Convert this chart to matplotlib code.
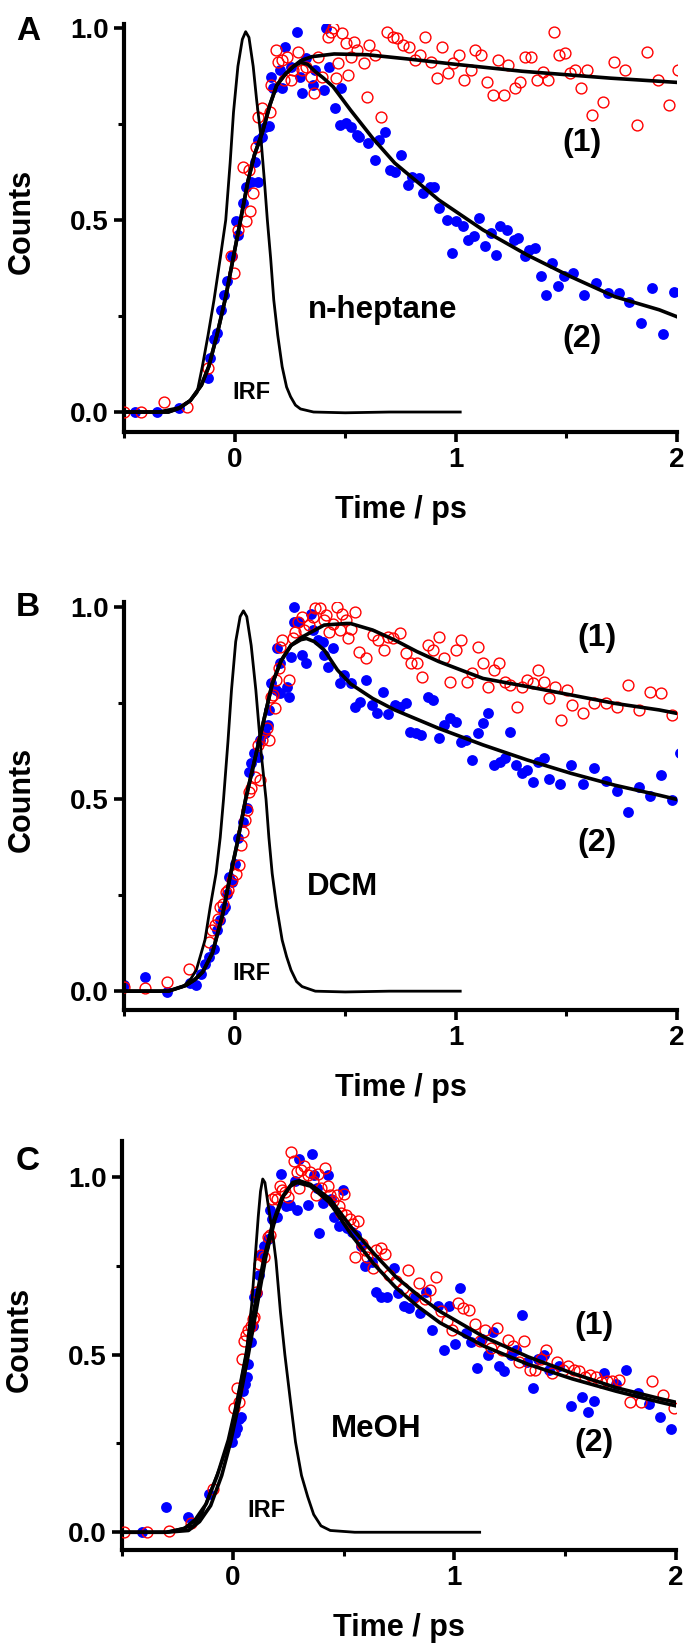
import matplotlib
matplotlib.use("Agg")
import matplotlib.pyplot as plt
from matplotlib.ticker import MultipleLocator

# ---- panel A : n-heptane ----
a_blue_t = [-0.45, -0.35, -0.25, -0.118, -0.11, -0.094, -0.08, -0.06, -0.048, -0.034,
            -0.014, 0.016, 0.006, 0.04, 0.052, 0.076, 0.106, 0.092, 0.106, 0.126,
            0.136, 0.156, 0.166, 0.175, 0.215, 0.205, 0.229, 0.255, 0.281, 0.305,
            0.295, 0.321, 0.355, 0.365, 0.405, 0.415, 0.429, 0.455, 0.475, 0.481,
            0.504, 0.524, 0.554, 0.564, 0.604, 0.634, 0.654, 0.68, 0.704, 0.724,
            0.754, 0.784, 0.804, 0.833, 0.853, 0.883, 0.903, 0.923, 0.959, 0.983,
            1.003, 1.033, 1.053, 1.083, 1.107, 1.133, 1.159, 1.182, 1.202, 1.232,
            1.262, 1.282, 1.312, 1.332, 1.358, 1.386, 1.408, 1.434, 1.462, 1.488,
            1.531, 1.581, 1.635, 1.687, 1.737, 1.785, 1.836, 1.886, 1.936, 1.986]
a_blue_y = [0.0, 0.0, 0.01, 0.088, 0.14, 0.19, 0.205, 0.266, 0.305, 0.34,
            0.405, 0.461, 0.496, 0.543, 0.587, 0.60, 0.60, 0.652, 0.708, 0.717,
            0.743, 0.745, 0.873, 0.843, 0.843, 0.89, 0.951, 0.899, 0.989, 0.83,
            0.873, 0.921, 0.852, 0.89, 0.839, 0.999, 0.899, 0.791, 0.747, 0.843,
            0.752, 0.743, 0.721, 0.717, 0.70, 0.656, 0.708, 0.73, 0.63, 0.626,
            0.669, 0.591, 0.613, 0.608, 0.569, 0.587, 0.587, 0.53, 0.50, 0.413,
            0.496, 0.483, 0.448, 0.457, 0.504, 0.431, 0.465, 0.409, 0.483, 0.474,
            0.448, 0.452, 0.405, 0.422, 0.426, 0.354, 0.305, 0.389, 0.328, 0.354,
            0.363, 0.305, 0.335, 0.309, 0.309, 0.287, 0.233, 0.322, 0.202, 0.313]

a_red_t = [-0.50, -0.423, -0.317, -0.217, -0.118, -0.004, -0.018, 0.016, 0.036, 0.05,
           0.066, 0.07, 0.082, 0.096, 0.106, 0.126, 0.16, 0.166, 0.185, 0.195,
           0.215, 0.225, 0.235, 0.255, 0.285, 0.265, 0.305, 0.325, 0.345, 0.361,
           0.375, 0.395, 0.421, 0.435, 0.445, 0.459, 0.469, 0.485, 0.504, 0.514,
           0.524, 0.54, 0.554, 0.584, 0.60, 0.608, 0.634, 0.664, 0.688, 0.714,
           0.734, 0.76, 0.788, 0.814, 0.839, 0.863, 0.889, 0.913, 0.939, 0.963,
           0.987, 1.013, 1.039, 1.067, 1.089, 1.113, 1.139, 1.166, 1.19, 1.218,
           1.238, 1.266, 1.29, 1.312, 1.342, 1.366, 1.392, 1.418, 1.442, 1.466,
           1.492, 1.517, 1.541, 1.565, 1.591, 1.617, 1.665, 1.717, 1.765, 1.817,
           1.866, 1.916, 1.966, 2.005]
a_red_y = [0.0, 0.0, 0.027, 0.014, 0.114, 0.361, 0.405, 0.474, 0.639, 0.496,
           0.63, 0.522, 0.571, 0.691, 0.769, 0.791, 0.782, 0.852, 0.943, 0.912,
           0.917, 0.865, 0.925, 0.865, 0.938, 0.891, 0.891, 0.899, 0.873, 0.83,
           0.925, 0.873, 0.977, 0.99, 1.0, 0.869, 0.908, 0.986, 0.96, 0.878,
           0.925, 0.964, 0.943, 0.908, 0.821, 0.956, 0.93, 0.769, 0.99, 0.977,
           0.973, 0.956, 0.951, 0.917, 0.93, 0.976, 0.912, 0.869, 0.951, 0.882,
           0.908, 0.93, 0.865, 0.891, 0.943, 0.93, 0.86, 0.826, 0.917, 0.826,
           0.904, 0.843, 0.86, 0.925, 0.925, 0.865, 0.886, 0.865, 0.99, 0.93,
           0.934, 0.882, 0.891, 0.843, 0.891, 0.773, 0.808, 0.912, 0.891, 0.747,
           0.936, 0.865, 0.80, 0.891]

a_irf_t = [-0.5, -0.35, -0.25, -0.2, -0.17, -0.146, -0.12, -0.093, -0.065, -0.04,
           -0.02, -0.005, 0.015, 0.035, 0.05, 0.065, 0.084, 0.1, 0.117, 0.135,
           0.148, 0.163, 0.177, 0.195, 0.215, 0.235, 0.253, 0.275, 0.298, 0.357,
           0.5, 0.7, 1.02]
a_irf_y = [0.0, 0.0, 0.012, 0.03, 0.05, 0.118, 0.2, 0.292, 0.4, 0.5,
           0.65, 0.78, 0.9, 0.97, 0.99, 0.975, 0.9, 0.81, 0.727, 0.6,
           0.5, 0.4, 0.292, 0.2, 0.118, 0.065, 0.04, 0.018, 0.008, 0.0,
           -0.002, 0.0, 0.0]

a_fit1_t = [-0.5, -0.3, -0.25, -0.2, -0.15, -0.117, -0.08, -0.04, 0.0, 0.027,
            0.06, 0.09, 0.125, 0.16, 0.19, 0.23, 0.267, 0.3, 0.35, 0.45,
            0.6, 0.8, 1.0, 1.3, 1.7, 2.0]
a_fit1_y = [0.0, 0.0, 0.01, 0.03, 0.07, 0.118, 0.2, 0.3, 0.42, 0.5,
            0.6, 0.67, 0.727, 0.8, 0.85, 0.88, 0.9, 0.915, 0.925, 0.932,
            0.93, 0.918, 0.905, 0.887, 0.869, 0.858]
a_fit2_t = [-0.5, -0.3, -0.25, -0.2, -0.15, -0.117, -0.08, -0.04, 0.0, 0.027,
            0.06, 0.09, 0.125, 0.16, 0.19, 0.23, 0.267, 0.3, 0.33, 0.365,
            0.4, 0.445, 0.524, 0.624, 0.724, 0.824, 0.923, 1.123, 1.322, 1.521,
            1.72, 1.92, 2.0]
a_fit2_y = [0.0, 0.0, 0.01, 0.03, 0.07, 0.118, 0.2, 0.3, 0.42, 0.5,
            0.6, 0.67, 0.727, 0.8, 0.85, 0.88, 0.9, 0.91, 0.905, 0.886,
            0.87, 0.847, 0.786, 0.713, 0.648, 0.60, 0.552, 0.474, 0.409, 0.352,
            0.30, 0.266, 0.248]

# ---- panel B : DCM ----
b_blue_t = [-0.5, -0.407, -0.307, -0.203, -0.173, -0.154, -0.134, -0.114, -0.094, -0.08,
            -0.064, -0.054, -0.044, -0.034, -0.024, -0.014, 0.0, 0.016, 0.04, 0.056,
            0.066, 0.076, 0.086, 0.106, 0.116, 0.136, 0.15, 0.156, 0.166, 0.185,
            0.205, 0.235, 0.245, 0.191, 0.205, 0.255, 0.269, 0.269, 0.291, 0.305,
            0.321, 0.345, 0.355, 0.375, 0.401, 0.405, 0.421, 0.445, 0.475, 0.495,
            0.524, 0.544, 0.568, 0.594, 0.62, 0.644, 0.67, 0.694, 0.724, 0.748,
            0.774, 0.794, 0.82, 0.843, 0.873, 0.899, 0.923, 0.947, 0.973, 0.999,
            1.023, 1.047, 1.073, 1.099, 1.123, 1.147, 1.172, 1.198, 1.222, 1.246,
            1.272, 1.298, 1.322, 1.348, 1.372, 1.398, 1.422, 1.472, 1.521, 1.575,
            1.625, 1.677, 1.727, 1.777, 1.826, 1.876, 1.926, 1.976, 2.012]
b_blue_y = [0.016, 0.037, -0.003, 0.02, 0.016, 0.046, 0.072, 0.089, 0.111, 0.159,
            0.185, 0.211, 0.22, 0.254, 0.298, 0.285, 0.332, 0.398, 0.441, 0.476,
            0.571, 0.593, 0.619, 0.61, 0.654, 0.671, 0.693, 0.732, 0.801, 0.784,
            0.775, 0.793, 0.766, 0.892, 0.853, 0.871, 0.962, 1.0, 0.962, 0.875,
            0.853, 0.983, 0.94, 0.914, 0.91, 0.875, 0.845, 0.892, 0.801, 0.823,
            0.801, 0.74, 0.753, 0.81, 0.745, 0.723, 0.78, 0.721, 0.745, 0.74,
            0.749, 0.675, 0.671, 0.667, 0.767, 0.758, 0.658, 0.693, 0.71, 0.701,
            0.649, 0.654, 0.603, 0.673, 0.697, 0.723, 0.589, 0.597, 0.606, 0.675,
            0.589, 0.567, 0.576, 0.545, 0.597, 0.606, 0.551, 0.539, 0.589, 0.539,
            0.58, 0.548, 0.522, 0.467, 0.532, 0.508, 0.563, 0.497, 0.619]

b_red_t = [-0.5, -0.407, -0.307, -0.207, -0.114, -0.1, -0.088, -0.074, -0.064, -0.054,
           -0.04, -0.028, -0.014, 0.006, 0.02, 0.03, 0.04, 0.046, 0.056, 0.066,
           0.076, 0.092, 0.106, 0.116, 0.126, 0.146, 0.156, 0.166, 0.175, 0.181,
           0.189, 0.199, 0.205, 0.215, 0.245, 0.265, 0.275, 0.285, 0.305, 0.315,
           0.335, 0.355, 0.365, 0.385, 0.405, 0.415, 0.429, 0.445, 0.465, 0.475,
           0.485, 0.504, 0.514, 0.524, 0.544, 0.564, 0.594, 0.624, 0.65, 0.674,
           0.694, 0.718, 0.748, 0.774, 0.798, 0.824, 0.847, 0.873, 0.899, 0.923,
           0.947, 0.973, 0.999, 1.023, 1.049, 1.073, 1.099, 1.123, 1.147, 1.172,
           1.196, 1.222, 1.246, 1.276, 1.298, 1.322, 1.348, 1.372, 1.398, 1.422,
           1.448, 1.476, 1.501, 1.525, 1.575, 1.625, 1.677, 1.727, 1.777, 1.826,
           1.876, 1.926, 1.976]
b_red_y = [0.011, 0.007, 0.024, 0.059, 0.128, 0.159, 0.172, 0.189, 0.22, 0.228,
           0.259, 0.263, 0.289, 0.306, 0.328, 0.38, 0.415, 0.445, 0.471, 0.519,
           0.528, 0.558, 0.641, 0.549, 0.654, 0.684, 0.654, 0.767, 0.771, 0.736,
           0.81, 0.84, 0.897, 0.914, 0.81, 0.918, 0.936, 0.962, 0.975, 0.94,
           0.953, 0.975, 0.997, 0.997, 0.966, 0.979, 0.936, 0.957, 1.0, 0.94,
           0.983, 0.966, 0.918, 0.944, 0.988, 0.884, 0.866, 0.927, 0.914, 0.888,
           0.923, 0.918, 0.933, 0.879, 0.853, 0.853, 0.817, 0.901, 0.888, 0.923,
           0.866, 0.806, 0.888, 0.914, 0.806, 0.827, 0.897, 0.853, 0.793, 0.836,
           0.853, 0.806, 0.797, 0.74, 0.793, 0.81, 0.801, 0.836, 0.806, 0.762,
           0.793, 0.706, 0.784, 0.745, 0.723, 0.749, 0.749, 0.74, 0.797, 0.732,
           0.78, 0.775, 0.719]

b_irf_t = [-0.5, -0.3, -0.233, -0.2, -0.173, -0.134, -0.11, -0.084, -0.065, -0.05,
           -0.03, -0.014, 0.005, 0.025, 0.04, 0.055, 0.075, 0.096, 0.12, 0.142,
           0.155, 0.17, 0.19, 0.215, 0.235, 0.255, 0.28, 0.305, 0.365, 0.5,
           0.7, 1.02]
b_irf_y = [0.0, 0.0, 0.012, 0.03, 0.055, 0.133, 0.22, 0.306, 0.4, 0.5,
           0.65, 0.784, 0.91, 0.975, 0.99, 0.975, 0.9, 0.784, 0.62, 0.5,
           0.4, 0.306, 0.22, 0.133, 0.09, 0.055, 0.025, 0.012, 0.0, -0.002,
           0.0, 0.0]

b_fit1_t = [-0.5, -0.3, -0.22, -0.18, -0.144, -0.1, -0.054, -0.02, 0.01, 0.05,
            0.09, 0.13, 0.17, 0.21, 0.255, 0.3, 0.325, 0.405, 0.504, 0.524,
            0.624, 0.724, 0.824, 0.923, 1.123, 1.322, 1.521, 1.72, 1.92, 2.0]
b_fit1_y = [0.0, 0.0, 0.015, 0.03, 0.05, 0.1, 0.2, 0.3, 0.38, 0.5,
            0.6, 0.7, 0.8, 0.86, 0.9, 0.92, 0.928, 0.953, 0.957, 0.957,
            0.94, 0.914, 0.884, 0.858, 0.814, 0.793, 0.771, 0.749, 0.732, 0.723]
b_fit2_t = [-0.5, -0.3, -0.22, -0.18, -0.144, -0.1, -0.054, -0.02, 0.01, 0.05,
            0.09, 0.13, 0.17, 0.21, 0.255, 0.3, 0.325, 0.36, 0.405, 0.465,
            0.524, 0.624, 0.724, 0.923, 1.123, 1.322, 1.521, 1.72, 1.92, 2.0]
b_fit2_y = [0.0, 0.0, 0.015, 0.03, 0.05, 0.1, 0.2, 0.3, 0.38, 0.5,
            0.6, 0.7, 0.8, 0.86, 0.9, 0.915, 0.918, 0.91, 0.888, 0.836,
            0.80, 0.762, 0.732, 0.684, 0.641, 0.602, 0.567, 0.536, 0.51, 0.499]

# ---- panel C : MeOH ----
c_blue_t = [-0.408, -0.302, -0.203, -0.109, -0.004, 0.01, 0.02, 0.03, 0.036, 0.044,
            0.054, 0.064, 0.07, 0.08, 0.09, 0.096, 0.109, 0.119, 0.129, 0.139,
            0.159, 0.169, 0.179, 0.199, 0.219, 0.239, 0.259, 0.279, 0.289, 0.299,
            0.338, 0.358, 0.368, 0.378, 0.388, 0.408, 0.428, 0.442, 0.458, 0.478,
            0.498, 0.517, 0.537, 0.557, 0.577, 0.597, 0.627, 0.647, 0.667, 0.697,
            0.726, 0.746, 0.772, 0.796, 0.82, 0.846, 0.872, 0.901, 0.925, 0.951,
            0.975, 1.001, 1.025, 1.051, 1.075, 1.1, 1.124, 1.15, 1.174, 1.2,
            1.224, 1.254, 1.278, 1.303, 1.329, 1.353, 1.379, 1.403, 1.429, 1.473,
            1.528, 1.578, 1.602, 1.628, 1.676, 1.727, 1.775, 1.827, 1.877, 1.926,
            1.976]
c_blue_y = [0.0, 0.072, 0.044, 0.107, 0.254, 0.279, 0.294, 0.32, 0.325, 0.397,
            0.417, 0.438, 0.473, 0.535, 0.581, 0.663, 0.673, 0.724, 0.785, 0.806,
            0.826, 0.908, 0.882, 0.888, 1.01, 0.918, 0.923, 0.99, 0.908, 1.051,
            0.923, 1.066, 1.005, 0.969, 0.842, 0.928, 1.005, 0.939, 0.888, 0.862,
            0.964, 0.857, 0.847, 0.836, 0.806, 0.749, 0.76, 0.678, 0.663, 0.663,
            0.744, 0.673, 0.637, 0.632, 0.663, 0.617, 0.678, 0.571, 0.637, 0.514,
            0.637, 0.53, 0.688, 0.56, 0.535, 0.463, 0.545, 0.499, 0.565, 0.468,
            0.453, 0.499, 0.514, 0.613, 0.479, 0.407, 0.489, 0.499, 0.458, 0.468,
            0.356, 0.381, 0.34, 0.371, 0.448, 0.417, 0.458, 0.392, 0.361, 0.325,
            0.292]

c_red_t = [-0.49, -0.388, -0.289, -0.189, -0.09, 0.004, 0.02, 0.03, 0.04, 0.05,
           0.06, 0.07, 0.08, 0.09, 0.096, 0.103, 0.119, 0.129, 0.139, 0.159,
           0.169, 0.179, 0.189, 0.199, 0.213, 0.223, 0.235, 0.249, 0.263, 0.275,
           0.289, 0.299, 0.308, 0.322, 0.338, 0.348, 0.362, 0.374, 0.384, 0.398,
           0.414, 0.428, 0.438, 0.454, 0.468, 0.478, 0.488, 0.501, 0.513, 0.527,
           0.543, 0.553, 0.567, 0.581, 0.597, 0.607, 0.633, 0.647, 0.667, 0.687,
           0.706, 0.736, 0.766, 0.792, 0.816, 0.84, 0.866, 0.892, 0.915, 0.941,
           0.965, 0.991, 1.015, 1.041, 1.065, 1.091, 1.114, 1.14, 1.164, 1.19,
           1.214, 1.24, 1.264, 1.29, 1.313, 1.339, 1.363, 1.389, 1.413, 1.439,
           1.463, 1.489, 1.512, 1.538, 1.562, 1.588, 1.612, 1.638, 1.662, 1.688,
           1.711, 1.741, 1.791, 1.841, 1.891, 1.94, 1.99]
c_red_y = [0.0, 0.0, 0.003, 0.027, 0.121, 0.351, 0.407, 0.366, 0.489, 0.54,
           0.555, 0.571, 0.581, 0.601, 0.606, 0.678, 0.755, 0.78, 0.775, 0.831,
           0.836, 0.939, 0.944, 0.939, 0.974, 0.964, 0.959, 0.944, 1.072, 1.046,
           1.015, 0.969, 1.02, 1.031, 1.005, 1.015, 0.99, 0.949, 1.01, 0.969,
           1.026, 0.974, 0.949, 0.934, 0.949, 0.918, 0.898, 0.954, 0.893, 0.882,
           0.867, 0.775, 0.877, 0.811, 0.796, 0.775, 0.744, 0.796, 0.801, 0.785,
           0.724, 0.709, 0.688, 0.739, 0.663, 0.703, 0.657, 0.683, 0.719, 0.622,
           0.596, 0.571, 0.647, 0.632, 0.627, 0.586, 0.54, 0.571, 0.519, 0.576,
           0.514, 0.542, 0.525, 0.479, 0.54, 0.458, 0.458, 0.487, 0.514, 0.448,
           0.479, 0.458, 0.468, 0.458, 0.453, 0.436, 0.443, 0.436, 0.422, 0.425,
           0.427, 0.429, 0.368, 0.368, 0.427, 0.387, 0.351]

c_irf_t = [-0.5, -0.3, -0.18, -0.14, -0.11, -0.06, -0.02, 0.02, 0.06, 0.085,
           0.1, 0.115, 0.125, 0.135, 0.145, 0.16, 0.18, 0.195, 0.215, 0.235,
           0.26, 0.283, 0.31, 0.338, 0.365, 0.398, 0.44, 0.55, 1.114]
c_irf_y = [0.0, 0.0, 0.018, 0.05, 0.1, 0.18, 0.254, 0.37, 0.5, 0.64,
           0.765, 0.89, 0.96, 0.995, 0.985, 0.92, 0.84, 0.765, 0.62, 0.5,
           0.37, 0.254, 0.16, 0.1, 0.05, 0.018, 0.005, 0.0, 0.0]

c_fit1_t = [-0.5, -0.3, -0.2, -0.15, -0.1, -0.05, -0.01, 0.03, 0.07, 0.11,
            0.15, 0.19, 0.23, 0.27, 0.3, 0.35, 0.438, 0.537, 0.637, 0.736,
            0.835, 0.935, 1.134, 1.333, 1.532, 1.731, 1.93, 2.0]
c_fit1_y = [0.0, 0.0, 0.005, 0.03, 0.075, 0.16, 0.254, 0.37, 0.5, 0.64,
            0.78, 0.88, 0.95, 0.985, 0.99, 0.98, 0.939, 0.857, 0.785, 0.719,
            0.668, 0.622, 0.55, 0.494, 0.448, 0.407, 0.376, 0.366]
c_fit2_t = [-0.5, -0.3, -0.22, -0.17, -0.12, -0.07, -0.02, 0.02, 0.06, 0.1,
            0.14, 0.18, 0.22, 0.26, 0.29, 0.35, 0.438, 0.537, 0.637, 0.736,
            0.835, 0.935, 1.134, 1.333, 1.532, 1.731, 1.93, 2.0]
c_fit2_y = [0.0, 0.0, 0.01, 0.035, 0.08, 0.16, 0.26, 0.37, 0.5, 0.64,
            0.77, 0.87, 0.94, 0.975, 0.985, 0.975, 0.928, 0.836, 0.755, 0.689,
            0.636, 0.59, 0.524, 0.473, 0.432, 0.397, 0.366, 0.356]

PANELS = [
    dict(letter="A", letter_y=32, solvent="n-heptane", pos=[124, 432, 553, 408],
         ylim=(-0.052, 1.01),
         blue=(a_blue_t, a_blue_y), red=(a_red_t, a_red_y), irf=(a_irf_t, a_irf_y),
         fits=[(a_fit1_t, a_fit1_y), (a_fit2_t, a_fit2_y)],
         solvent_xy=(0.67, 0.266), irf_xy=(0.077, 0.052), one_xy=(1.57, 0.70), two_xy=(1.57, 0.19)),
    dict(letter="B", letter_y=607, solvent="DCM", pos=[124, 1010, 553, 408],
         ylim=(-0.049, 1.013),
         blue=(b_blue_t, b_blue_y), red=(b_red_t, b_red_y), irf=(b_irf_t, b_irf_y),
         fits=[(b_fit1_t, b_fit1_y), (b_fit2_t, b_fit2_y)],
         solvent_xy=(0.49, 0.27), irf_xy=(0.077, 0.047), one_xy=(1.64, 0.92), two_xy=(1.64, 0.385)),
    dict(letter="C", letter_y=1162, solvent="MeOH", pos=[122, 1550, 554, 409],
         ylim=(-0.05, 1.102),
         blue=(c_blue_t, c_blue_y), red=(c_red_t, c_red_y), irf=(c_irf_t, c_irf_y),
         fits=[(c_fit1_t, c_fit1_y), (c_fit2_t, c_fit2_y)],
         solvent_xy=(0.645, 0.29), irf_xy=(0.15, 0.06), one_xy=(1.63, 0.58), two_xy=(1.63, 0.25)),
]

W, H = 690, 1646


def draw_panel(fig, p):
    left, bottom_px, width, height = p["pos"]
    ax = fig.add_axes([left / W, (H - bottom_px) / H, width / W, height / H])

    ax.plot(*p["blue"], "o", color="#0000ff", ms=7.8, mec="none", zorder=2)
    ax.plot(*p["red"], "o", mfc="none", mec="#ff0000", ms=7.8, mew=1.0, zorder=3)
    ax.plot(*p["irf"], color="black", lw=2.0, zorder=4)
    for t, y in p["fits"]:
        ax.plot(t, y, color="black", lw=2.6, zorder=5)

    ax.set_xlim(-0.5, 2.0)
    ax.set_ylim(*p["ylim"])
    ax.xaxis.set_major_locator(MultipleLocator(1))
    ax.xaxis.set_minor_locator(MultipleLocator(0.5))
    ax.yaxis.set_major_locator(MultipleLocator(0.5))
    ax.yaxis.set_minor_locator(MultipleLocator(0.25))
    ax.xaxis.set_major_formatter(lambda v, pos: f"{v:.0f}")
    ax.yaxis.set_major_formatter(lambda v, pos: f"{v:.1f}")

    for side in ("top", "right"):
        ax.spines[side].set_visible(False)
    for side in ("left", "bottom"):
        ax.spines[side].set_linewidth(3.0)
        ax.spines[side].set_capstyle("projecting")

    ax.tick_params(which="major", direction="out", length=7, width=2.6,
                   labelsize=20, pad=4)
    ax.tick_params(which="minor", direction="out", length=4, width=2.2)

    ax.set_xlabel("Time / ps", fontsize=22, fontweight="bold")
    ax.xaxis.set_label_coords(0.5, -0.155)
    ax.set_ylabel("Counts", fontsize=22, fontweight="bold")
    ax.yaxis.set_label_coords(-0.157, 0.515)

    ax.text(*p["solvent_xy"], p["solvent"], fontsize=22.5, fontweight="bold",
            ha="center", va="center")
    ax.text(*p["irf_xy"], "IRF", fontsize=17, fontweight="bold", ha="center", va="center")
    ax.text(*p["one_xy"], "(1)", fontsize=23, fontweight="bold", ha="center", va="center")
    ax.text(*p["two_xy"], "(2)", fontsize=23, fontweight="bold", ha="center", va="center")

    fig.text(28 / W, 1 - p["letter_y"] / H, p["letter"], fontsize=24, fontweight="bold",
             ha="center", va="center")
    return ax


def main():
    plt.rcParams["font.family"] = ["Liberation Sans", "DejaVu Sans"]
    plt.rcParams["font.weight"] = "bold"

    fig = plt.figure(figsize=(6.9, 16.46), dpi=100)
    for p in PANELS:
        draw_panel(fig, p)

    fig.savefig("out.png", dpi=100)


if __name__ == "__main__":
    main()
